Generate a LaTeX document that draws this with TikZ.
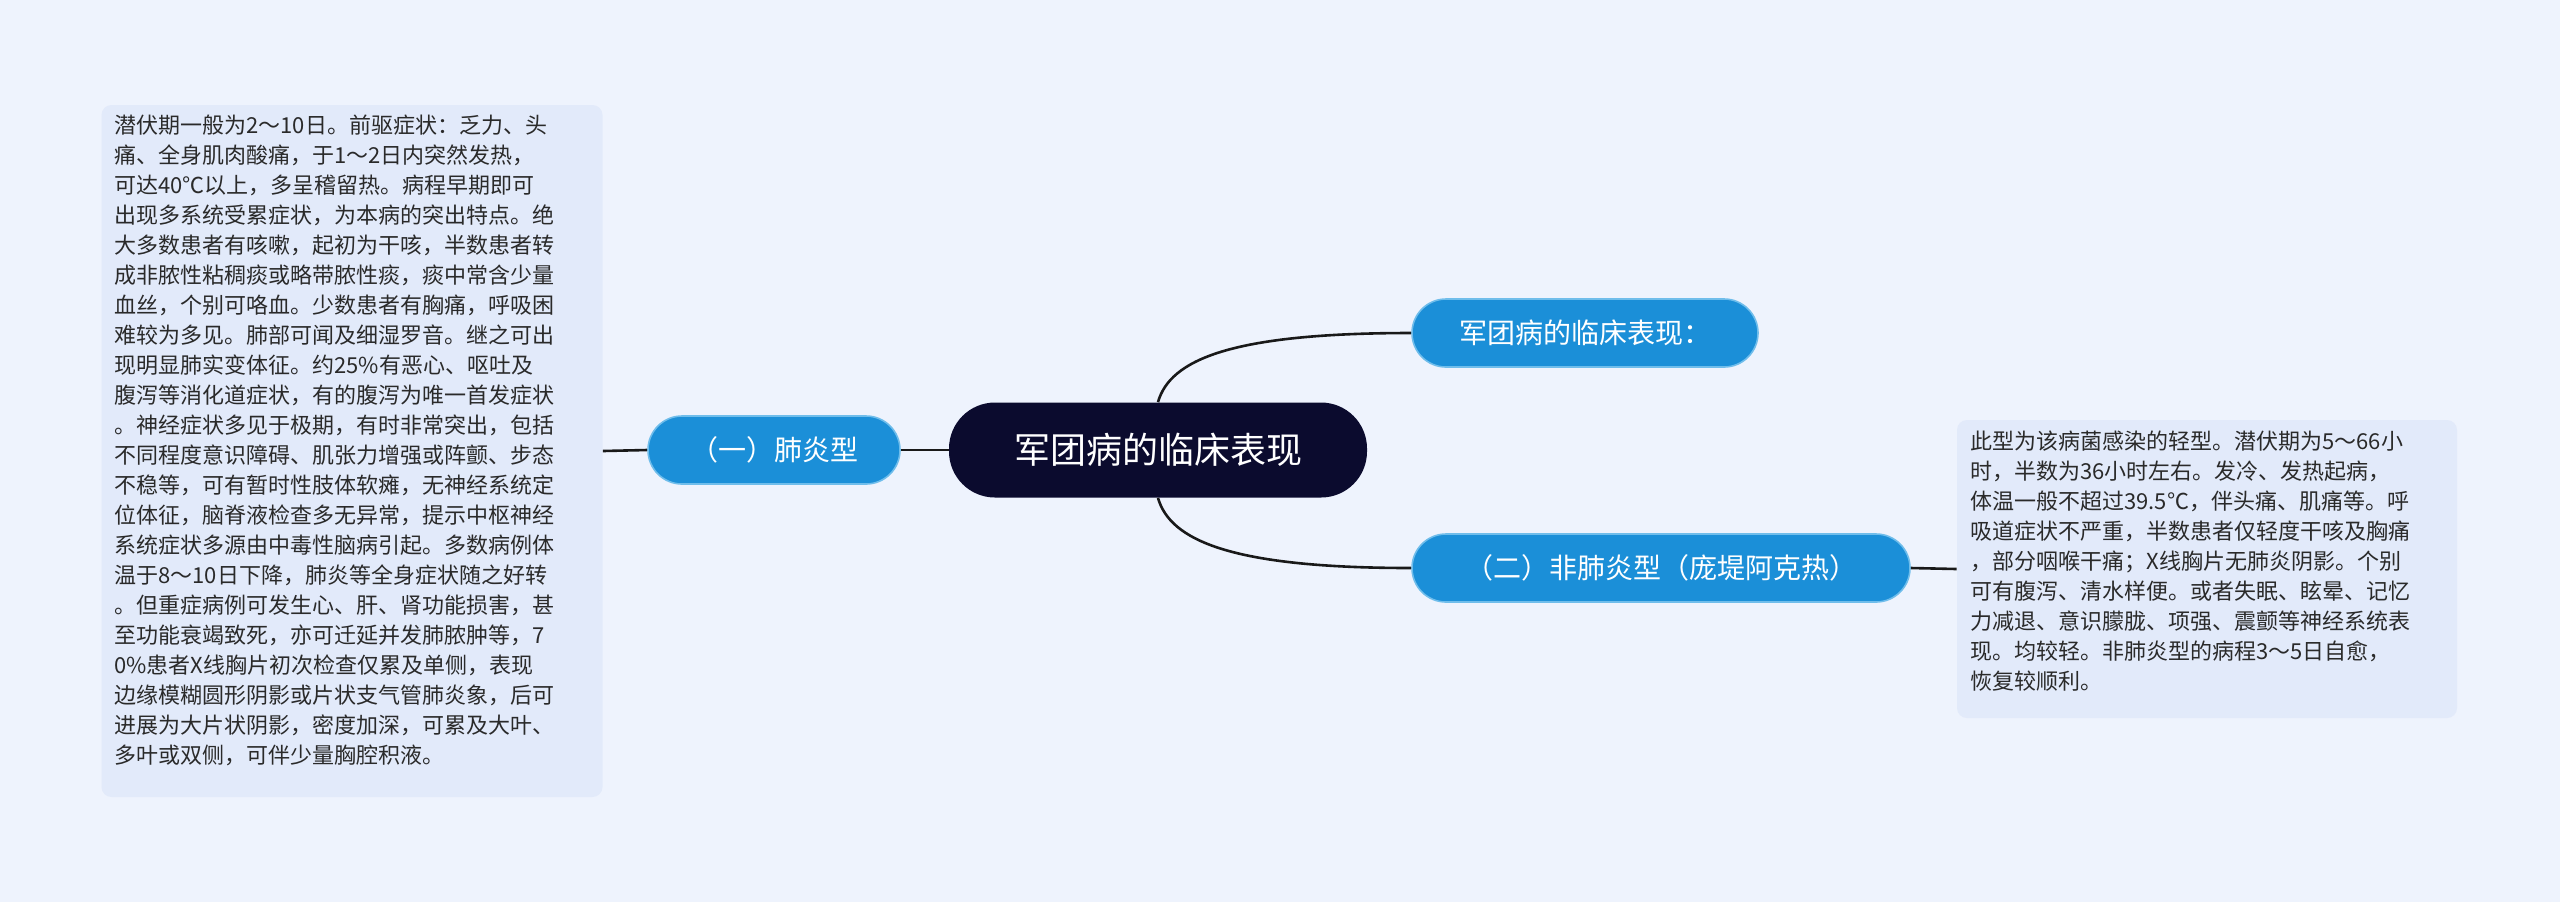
\documentclass[tikz,border=0pt]{standalone}
\usepackage{fontspec}
\setmainfont{Noto Sans CJK SC}
\definecolor{bg}{HTML}{EEF3FD}
\definecolor{boxbg}{HTML}{E2EAFA}
\definecolor{navy}{HTML}{0B0B2E}
\definecolor{blue}{HTML}{1B8FD8}
\definecolor{blueb}{HTML}{6FBDEB}
\definecolor{txt}{HTML}{2A2A2A}
\begin{document}
\begin{tikzpicture}[x=0.5pt,y=-0.5pt,
  link/.style={line width=1.3pt,black!90},
  topic/.style={fill=blue,draw=blueb,line width=0.8pt,rounded corners=17pt,text=white,font=\fontsize{14}{16}\selectfont,inner sep=0pt},
  note/.style={fill=boxbg,rounded corners=5pt,inner sep=0pt},
  notetext/.style={anchor=north west,align=left,text=txt,font=\fontsize{11}{15}\selectfont,inner sep=0pt}]
\fill[bg] (0,0) rectangle (2560,902);
\useasboundingbox (0,0) rectangle (2560,902);
\node[fill=navy,rounded corners=23pt,minimum width=209pt,minimum height=47.5pt,text=white,font=\fontsize{18}{20}\selectfont,inner sep=0pt] (root) at (1158,450) {军团病的临床表现};
\node[topic,minimum width=126pt,minimum height=34pt] (t1) at (774,450) {（一）肺炎型};
\node[topic,minimum width=173pt,minimum height=34pt] (t0) at (1585,333) {军团病的临床表现：};
\node[topic,minimum width=249pt,minimum height=34pt] (t2) at (1661,568) {（二）非肺炎型（庞堤阿克热）};
\node[note,minimum width=250.5pt,minimum height=346pt] (n1) at (352,451) {};
\node[note,minimum width=250pt,minimum height=149pt] (n2) at (2207,569) {};
\node[notetext] (n1t) at (114,114) {潜伏期一般为2～10日。前驱症状：乏力、头\\痛、全身肌肉酸痛，于1～2日内突然发热，\\可达40℃以上，多呈稽留热。病程早期即可\\出现多系统受累症状，为本病的突出特点。绝\\大多数患者有咳嗽，起初为干咳，半数患者转\\成非脓性粘稠痰或略带脓性痰，痰中常含少量\\血丝，个别可咯血。少数患者有胸痛，呼吸困\\难较为多见。肺部可闻及细湿罗音。继之可出\\现明显肺实变体征。约25\%有恶心、呕吐及\\腹泻等消化道症状，有的腹泻为唯一首发症状\\。神经症状多见于极期，有时非常突出，包括\\不同程度意识障碍、肌张力增强或阵颤、步态\\不稳等，可有暂时性肢体软瘫，无神经系统定\\位体征，脑脊液检查多无异常，提示中枢神经\\系统症状多源由中毒性脑病引起。多数病例体\\温于8～10日下降，肺炎等全身症状随之好转\\。但重症病例可发生心、肝、肾功能损害，甚\\至功能衰竭致死，亦可迁延并发肺脓肿等，7\\0\%患者X线胸片初次检查仅累及单侧，表现\\边缘模糊圆形阴影或片状支气管肺炎象，后可\\进展为大片状阴影，密度加深，可累及大叶、\\多叶或双侧，可伴少量胸腔积液。};
\node[notetext] (n2t) at (1970,430) {此型为该病菌感染的轻型。潜伏期为5～66小\\时，半数为36小时左右。发冷、发热起病，\\体温一般不超过39.5℃，伴头痛、肌痛等。呼\\吸道症状不严重，半数患者仅轻度干咳及胸痛\\，部分咽喉干痛；X线胸片无肺炎阴影。个别\\可有腹泻、清水样便。或者失眠、眩晕、记忆\\力减退、意识朦胧、项强、震颤等神经系统表\\现。均较轻。非肺炎型的病程3～5日自愈，\\恢复较顺利。};
\draw[link] (root.west) -- (t1.east);
\draw[link] (t1.west) -- (n1.east);
\draw[link] (t2.east) -- (n2.west);
\draw[link] (root.north) .. controls (1170,360) and (1230,333) .. (t0.west);
\draw[link] (root.south) .. controls (1170,540) and (1230,568) .. (t2.west);
\end{tikzpicture}
\end{document}
